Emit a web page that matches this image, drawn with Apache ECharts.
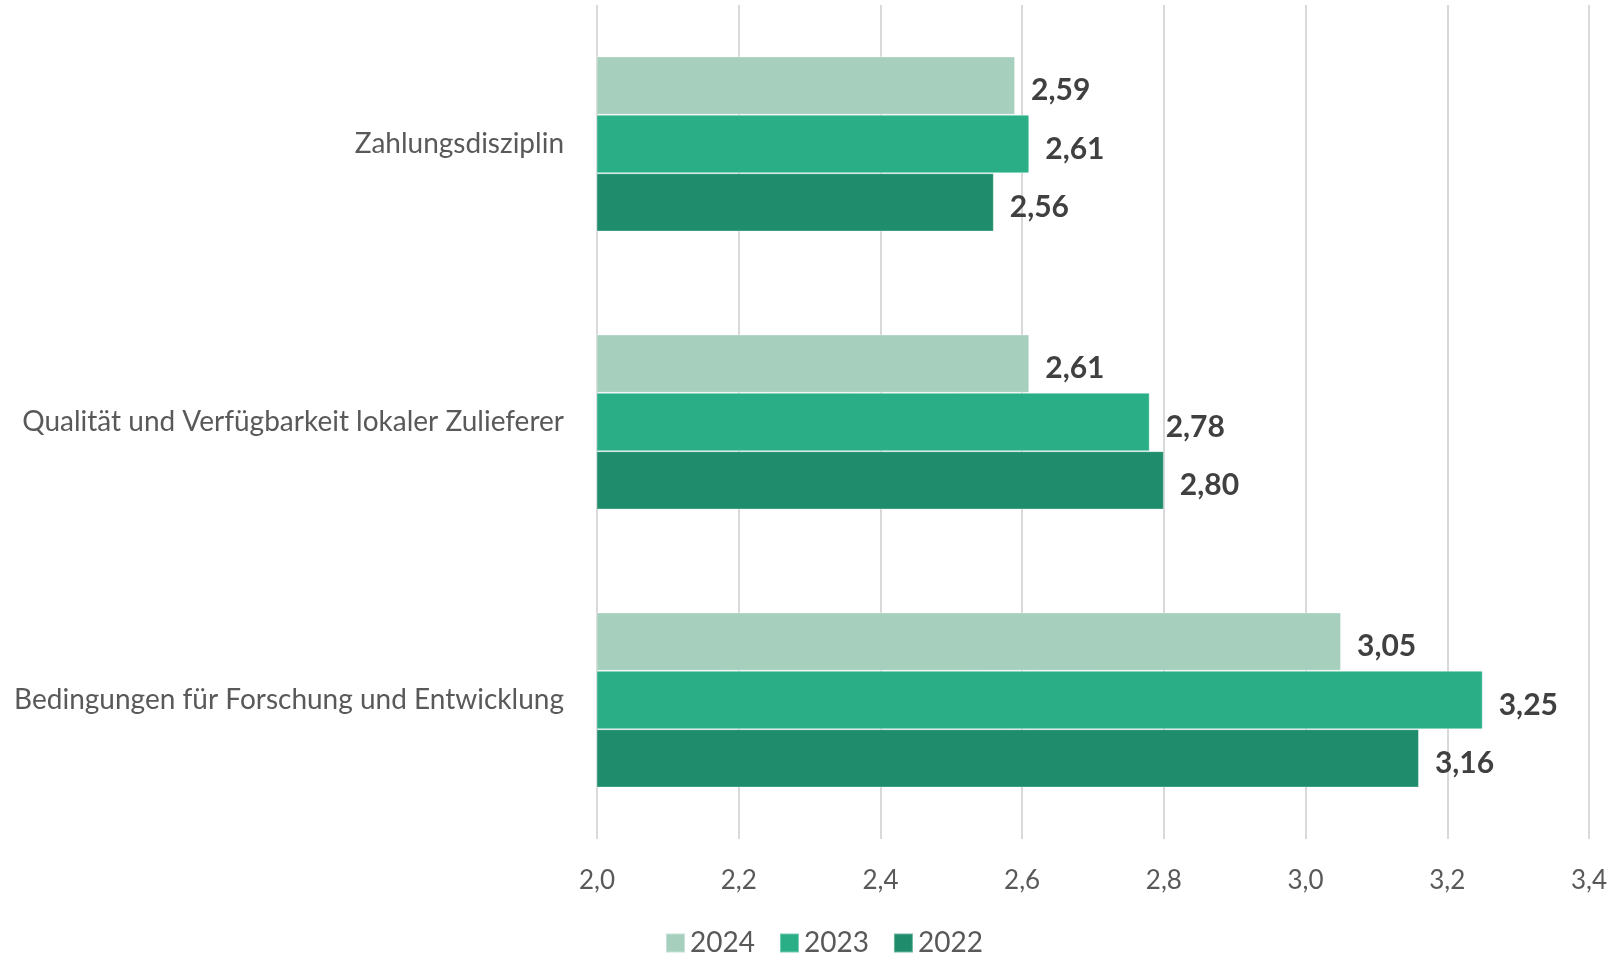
<!DOCTYPE html>
<html>
<head>
<meta charset="utf-8">
<style>
  html, body { margin: 0; padding: 0; background: #fff; }
  #chart_main { width: 1616px; height: 956px; }
</style>
<script src="https://cdn.jsdelivr.net/npm/echarts@6/dist/echarts.min.js"></script>
</head>
<body>
<div id="chart_main"></div>
<script>
// Kategorien von unten nach oben (y-Achse zählt von unten)
var categories = ['Bedingungen für Forschung und Entwicklung', 'Qualität und Verfügbarkeit lokaler Zulieferer', 'Zahlungsdisziplin'];
var years = ['2024', '2023', '2022'];
var values2024 = [3.05, 2.61, 2.59];
var values2023 = [3.25, 2.78, 2.61];
var values2022 = [3.16, 2.80, 2.56];
var colors = { '2024': '#a6d0bd', '2023': '#2aae86', '2022': '#1f8c6c' };
var xTicks = { min: 2.0, max: 3.4, interval: 0.2 };

var fontFamily = '"Source Sans Pro", Lato, "Noto Sans", sans-serif';

function comma(v, d) {
  return Number(v).toFixed(d).replace('.', ',');
}

function makeSeries(name, data) {
  return {
    name: name,
    type: 'bar',
    data: data,
    barGap: '0%',
    barCategoryGap: '37%',
    itemStyle: { color: colors[name], borderColor: 'rgba(255,255,255,0.35)', borderWidth: 1 },
    label: {
      show: true,
      position: 'right',
      distance: 16,
      offset: [0, 5],
      fontFamily: fontFamily,
      fontSize: 30,
      fontWeight: 'bold',
      color: '#404040',
      formatter: function (p) { return comma(p.value, 2); }
    }
  };
}

var option = {
  animation: false,
  grid: { left: 597, right: 27, top: 5, bottom: 117 },
  legend: {
    data: years,
    left: 660,
    top: 924,
    icon: 'rect',
    itemWidth: 19,
    itemHeight: 19,
    itemGap: 24,
    textStyle: { fontFamily: fontFamily, fontSize: 28, color: '#595959' }
  },
  xAxis: {
    type: 'value',
    min: xTicks.min,
    max: xTicks.max,
    interval: xTicks.interval,
    axisLine: { show: false },
    axisTick: { show: false },
    splitLine: { lineStyle: { color: '#d9d9d9', width: 2 } },
    axisLabel: {
      margin: 29,
      fontFamily: fontFamily,
      fontSize: 26,
      color: '#595959',
      formatter: function (v) { return comma(v, 1); }
    }
  },
  yAxis: {
    type: 'category',
    data: categories,
    axisLine: { show: false },
    axisTick: { show: false },
    axisLabel: {
      margin: 33,
      fontFamily: fontFamily,
      fontSize: 28,
      color: '#595959'
    }
  },
  series: [
    makeSeries('2024', values2024),
    makeSeries('2023', values2023),
    makeSeries('2022', values2022)
  ]
};

var chart = echarts.init(document.getElementById('chart_main'));
chart.setOption(option);
</script>
</body>
</html>
